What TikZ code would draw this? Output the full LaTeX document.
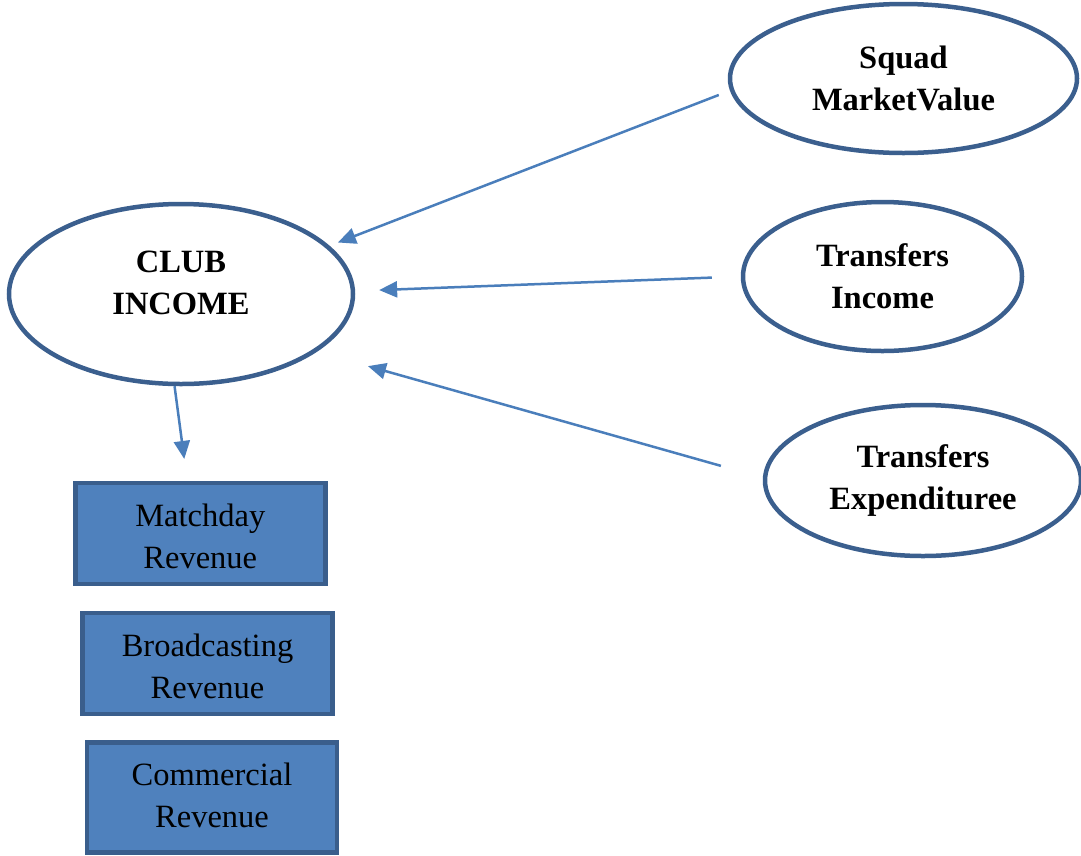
\documentclass[tikz,border=0pt]{standalone}
\usepackage{fontspec}
\setmainfont{Liberation Serif}
\usetikzlibrary{shapes.geometric,arrows.meta}
\definecolor{ovalline}{HTML}{3B5F8E}
\definecolor{boxfill}{HTML}{4F81BD}
\definecolor{boxline}{HTML}{3A5E8C}
\definecolor{arrowblue}{HTML}{4A7EBB}
\begin{document}
\begin{tikzpicture}[x=1pt, y=-1pt,
    oval/.style={ellipse, draw=ovalline, line width=4.5pt, inner sep=0pt, align=center,
      font=\fontsize{32.5}{42}\selectfont\bfseries},
    revbox/.style={rectangle, draw=boxline, fill=boxfill, line width=4.5pt, inner sep=0pt,
      minimum width=250pt, minimum height=101pt, align=center, text height=70pt,
      font=\fontsize{32.5}{42}\selectfont},
    link/.style={draw=arrowblue, line width=2.5pt, -{Triangle[length=18pt,width=16pt]}}]
    \useasboundingbox (0,0) rectangle (1081,855);

    % Income and the three drivers
    \node[oval, minimum width=344pt, minimum height=180pt, text depth=23pt] (club) at (181,294) {CLUB\\INCOME};
    \node[oval, minimum width=347pt, minimum height=149pt] (smv) at (903.5,78.5) {Squad\\MarketValue};
    \node[oval, minimum width=279pt, minimum height=149pt] (ti) at (882.5,276.5) {Transfers\\Income};
    \node[oval, minimum width=316pt, minimum height=151pt] (te) at (923,480.5) {Transfers\\Expendituree};

    % Revenue streams
    \node[revbox] (md) at (200.3,533.5) {Matchday\\Revenue};
    \node[revbox] (bc) at (207.5,663.3) {Broadcasting\\Revenue};
    \node[revbox, minimum height=110pt, text height=60pt] (cm) at (212,797.5) {Commercial\\Revenue};

    % Arrows
    \draw[link, shorten <=12pt, shorten >=9pt] (smv.184) -- (club.18.6);
    \draw[link, shorten <=29pt, shorten >=24pt] (ti.180.6) -- (club.1.4);
    \draw[link, shorten <=43.6pt, shorten >=53pt] (te.179.1) -- (club.337.4);
    \draw[link, shorten >=22pt] (club.266) -- (md.104);
\end{tikzpicture}
\end{document}
